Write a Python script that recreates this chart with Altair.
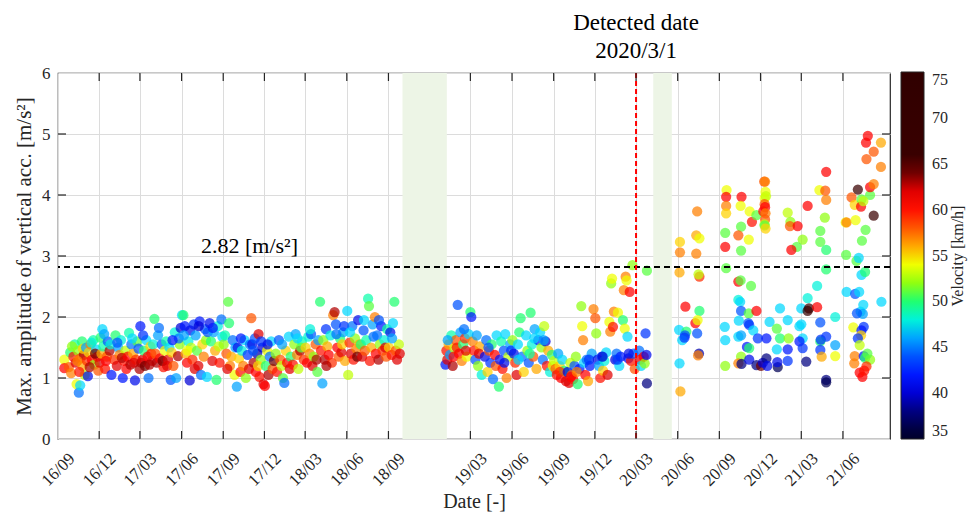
import altair as alt
import pandas as pd

# ---------------- data (date, max amplitude [m/s^2], velocity [km/h]) ----------------
sec_2016_2018 = [
    ("2016-09-15", 1.30, 54), ("2016-09-15", 1.16, 61), ("2016-09-25", 1.18, 58), ("2016-09-28", 1.42, 50), ("2016-09-30", 1.08, 57),
    ("2016-10-05", 1.35, 60), ("2016-10-08", 1.55, 49), ("2016-10-10", 1.25, 62), ("2016-10-12", 0.90, 54), ("2016-10-15", 1.45, 52),
    ("2016-10-17", 0.76, 45), ("2016-10-20", 0.88, 47), ("2016-10-20", 1.32, 58), ("2016-10-24", 1.60, 50), ("2016-10-25", 1.20, 56),
    ("2016-10-28", 1.38, 63), ("2016-10-30", 1.05, 53), ("2016-10-14", 1.28, 57), ("2016-10-26", 1.48, 55), ("2016-10-02", 1.52, 52),
    ("2016-10-18", 1.10, 60),
    ("2016-11-02", 1.50, 46), ("2016-11-04", 1.28, 59), ("2016-11-06", 1.03, 41), ("2016-11-08", 1.42, 55), ("2016-11-12", 1.55, 57),
    ("2016-11-15", 1.30, 61), ("2016-11-18", 1.62, 49), ("2016-11-20", 1.22, 52), ("2016-11-24", 1.47, 47), ("2016-11-27", 1.35, 60),
    ("2016-11-10", 1.18, 63), ("2016-11-22", 1.40, 64), ("2016-11-14", 1.58, 48), ("2016-11-29", 1.12, 58),
    ("2016-12-02", 1.25, 62), ("2016-12-04", 1.66, 50), ("2016-12-06", 1.40, 56), ("2016-12-08", 1.80, 47), ("2016-12-10", 1.52, 49),
    ("2016-12-14", 1.15, 60), ("2016-12-18", 1.35, 58), ("2016-12-20", 1.60, 44), ("2016-12-24", 1.45, 63), ("2016-12-28", 1.05, 42),
    ("2016-12-16", 1.28, 61), ("2016-12-26", 1.55, 48), ("2016-12-12", 1.72, 46),
    ("2017-01-03", 1.30, 59), ("2017-01-06", 1.70, 50), ("2017-01-09", 1.20, 62), ("2017-01-12", 1.50, 46), ("2017-01-15", 1.38, 57),
    ("2017-01-18", 1.62, 48), ("2017-01-22", 1.00, 42), ("2017-01-25", 1.28, 60), ("2017-01-28", 1.45, 53), ("2017-01-20", 1.33, 63),
    ("2017-01-10", 1.58, 44), ("2017-01-30", 1.15, 61),
    ("2017-02-02", 1.35, 61), ("2017-02-05", 1.74, 49), ("2017-02-08", 1.22, 63), ("2017-02-10", 1.55, 45), ("2017-02-14", 1.40, 56),
    ("2017-02-18", 0.96, 41), ("2017-02-20", 1.30, 59), ("2017-02-23", 1.60, 51), ("2017-02-26", 1.48, 44), ("2017-02-16", 1.25, 62),
    ("2017-02-12", 1.65, 47), ("2017-02-28", 1.15, 63),
    ("2017-03-02", 1.85, 42), ("2017-03-04", 1.25, 63), ("2017-03-07", 1.30, 62), ("2017-03-10", 1.45, 50), ("2017-03-12", 1.20, 64),
    ("2017-03-15", 1.62, 47), ("2017-03-18", 1.35, 61), ("2017-03-20", 1.00, 45), ("2017-03-24", 1.52, 55), ("2017-03-28", 1.28, 62),
    ("2017-03-22", 1.22, 63), ("2017-03-26", 1.40, 60), ("2017-03-08", 1.70, 43), ("2017-03-30", 1.55, 48),
    ("2017-04-02", 1.97, 50), ("2017-04-04", 1.40, 58), ("2017-04-07", 1.25, 63), ("2017-04-10", 1.70, 46), ("2017-04-14", 1.32, 61),
    ("2017-04-18", 1.55, 44), ("2017-04-22", 1.18, 60), ("2017-04-25", 1.45, 54), ("2017-04-28", 1.60, 49), ("2017-04-20", 1.28, 64),
    ("2017-04-12", 1.82, 45), ("2017-04-30", 1.20, 62),
    ("2017-05-02", 1.30, 62), ("2017-05-05", 1.50, 47), ("2017-05-08", 0.97, 44), ("2017-05-10", 1.42, 55), ("2017-05-14", 1.20, 58),
    ("2017-05-17", 1.75, 48), ("2017-05-20", 1.00, 46), ("2017-05-24", 1.36, 63), ("2017-05-28", 1.55, 52), ("2017-05-26", 1.65, 45),
    ("2017-05-12", 1.62, 42), ("2017-05-30", 1.82, 40),
    ("2017-06-02", 2.03, 47), ("2017-06-05", 2.03, 50), ("2017-06-08", 1.85, 42), ("2017-06-10", 1.40, 56), ("2017-06-13", 1.25, 61),
    ("2017-06-16", 1.60, 48), ("2017-06-19", 0.96, 40), ("2017-06-22", 1.50, 53), ("2017-06-25", 1.30, 59), ("2017-06-28", 1.88, 43),
    ("2017-06-20", 1.78, 41), ("2017-06-14", 1.45, 54), ("2017-06-06", 1.70, 46), ("2017-06-30", 1.15, 62),
    ("2017-07-02", 1.70, 46), ("2017-07-05", 1.45, 51), ("2017-07-08", 1.20, 62), ("2017-07-11", 1.93, 42), ("2017-07-14", 1.05, 45),
    ("2017-07-17", 1.55, 55), ("2017-07-20", 1.35, 57), ("2017-07-23", 1.80, 44), ("2017-07-27", 1.02, 47), ("2017-07-25", 1.62, 52),
    ("2017-07-09", 1.85, 40), ("2017-07-29", 1.75, 44),
    ("2017-08-02", 1.90, 41), ("2017-08-05", 1.60, 50), ("2017-08-08", 1.28, 62), ("2017-08-11", 1.75, 46), ("2017-08-14", 1.45, 56),
    ("2017-08-17", 0.97, 50), ("2017-08-20", 1.85, 48), ("2017-08-24", 1.25, 60), ("2017-08-28", 1.96, 45), ("2017-08-22", 1.52, 53),
    ("2017-08-09", 1.82, 42), ("2017-08-30", 1.68, 47),
    ("2017-09-02", 1.55, 52), ("2017-09-05", 1.70, 49), ("2017-09-08", 1.40, 58), ("2017-09-12", 2.25, 51), ("2017-09-14", 1.90, 50),
    ("2017-09-16", 1.20, 57), ("2017-09-19", 1.35, 56), ("2017-09-22", 1.62, 45), ("2017-09-26", 1.05, 54), ("2017-09-10", 1.15, 62),
    ("2017-09-28", 1.50, 46),
    ("2017-10-01", 0.86, 46), ("2017-10-03", 1.50, 41), ("2017-10-06", 1.32, 55), ("2017-10-09", 1.10, 60), ("2017-10-12", 1.45, 48),
    ("2017-10-15", 1.20, 57), ("2017-10-18", 1.62, 47), ("2017-10-21", 1.00, 52), ("2017-10-25", 1.38, 43), ("2017-10-28", 1.15, 62),
    ("2017-10-10", 1.65, 42), ("2017-10-30", 1.55, 45),
    ("2017-11-02", 1.98, 58), ("2017-11-04", 1.55, 41), ("2017-11-07", 1.25, 63), ("2017-11-10", 1.65, 44), ("2017-11-12", 1.10, 61),
    ("2017-11-15", 1.40, 39), ("2017-11-18", 1.72, 62), ("2017-11-20", 1.02, 60), ("2017-11-23", 1.30, 52), ("2017-11-26", 1.50, 40),
    ("2017-11-29", 0.90, 62), ("2017-11-17", 1.20, 55), ("2017-11-24", 1.60, 43), ("2017-11-06", 1.45, 44),
    ("2017-12-02", 0.87, 61), ("2017-12-04", 1.20, 50), ("2017-12-07", 1.45, 54), ("2017-12-10", 1.05, 63), ("2017-12-13", 1.35, 45),
    ("2017-12-16", 1.60, 47), ("2017-12-19", 1.15, 58), ("2017-12-22", 1.28, 64), ("2017-12-26", 1.40, 52), ("2017-12-08", 1.55, 41),
    ("2017-12-29", 1.10, 60),
    ("2018-01-02", 1.62, 44), ("2018-01-05", 1.30, 58), ("2018-01-08", 1.20, 53), ("2018-01-11", 1.00, 51), ("2018-01-14", 0.92, 45),
    ("2018-01-17", 1.45, 55), ("2018-01-20", 1.25, 61), ("2018-01-24", 1.68, 47), ("2018-01-28", 1.35, 50), ("2018-01-09", 1.55, 46),
    ("2018-01-26", 1.15, 62),
    ("2018-02-02", 1.22, 60), ("2018-02-05", 1.55, 52), ("2018-02-08", 1.72, 46), ("2018-02-11", 1.38, 57), ("2018-02-14", 1.15, 53),
    ("2018-02-18", 1.45, 63), ("2018-02-22", 1.60, 49), ("2018-02-26", 1.30, 59), ("2018-02-20", 1.50, 51), ("2018-02-12", 1.65, 47),
    ("2018-03-02", 1.50, 55), ("2018-03-05", 1.25, 61), ("2018-03-08", 1.68, 48), ("2018-03-11", 1.40, 57), ("2018-03-14", 1.72, 44),
    ("2018-03-17", 1.20, 62), ("2018-03-20", 1.35, 52), ("2018-03-24", 1.55, 58), ("2018-03-28", 1.10, 51), ("2018-03-26", 1.30, 63),
    ("2018-03-12", 1.80, 48), ("2018-03-30", 1.62, 46),
    ("2018-04-03", 2.25, 50), ("2018-04-05", 1.45, 60), ("2018-04-08", 0.91, 46), ("2018-04-10", 1.62, 52), ("2018-04-13", 1.30, 63),
    ("2018-04-16", 1.80, 43), ("2018-04-19", 1.52, 56), ("2018-04-22", 1.38, 61), ("2018-04-26", 1.70, 48), ("2018-04-29", 1.25, 59),
    ("2018-04-17", 1.20, 63),
    ("2018-05-02", 2.03, 57), ("2018-05-05", 2.08, 63), ("2018-05-08", 1.88, 44), ("2018-05-11", 1.50, 61), ("2018-05-14", 1.35, 58),
    ("2018-05-17", 1.65, 50), ("2018-05-20", 1.42, 62), ("2018-05-24", 1.75, 46), ("2018-05-28", 1.28, 56), ("2018-05-22", 1.55, 55),
    ("2018-05-09", 1.72, 45), ("2018-05-26", 1.85, 43),
    ("2018-06-02", 2.10, 47), ("2018-06-04", 1.05, 53), ("2018-06-07", 1.58, 59), ("2018-06-10", 1.40, 62), ("2018-06-13", 1.85, 45),
    ("2018-06-16", 1.30, 60), ("2018-06-19", 1.65, 52), ("2018-06-22", 1.48, 57), ("2018-06-26", 1.95, 41), ("2018-06-24", 1.35, 64),
    ("2018-06-08", 1.75, 47), ("2018-06-29", 1.55, 56),
    ("2018-07-02", 1.55, 50), ("2018-07-05", 1.35, 62), ("2018-07-08", 1.78, 44), ("2018-07-11", 1.45, 58), ("2018-07-14", 1.62, 49),
    ("2018-07-18", 2.30, 49), ("2018-07-20", 2.18, 51), ("2018-07-22", 1.28, 60), ("2018-07-25", 1.50, 56), ("2018-07-28", 1.88, 46),
    ("2018-07-09", 1.95, 47), ("2018-07-30", 1.68, 45),
    ("2018-08-02", 2.00, 57), ("2018-08-04", 1.40, 61), ("2018-08-07", 1.70, 45), ("2018-08-10", 1.30, 63), ("2018-08-13", 1.55, 52),
    ("2018-08-16", 1.85, 42), ("2018-08-19", 1.45, 59), ("2018-08-23", 1.62, 48), ("2018-08-27", 1.35, 58), ("2018-08-25", 1.50, 62),
    ("2018-08-11", 1.95, 44), ("2018-08-29", 1.80, 49),
    ("2018-09-02", 1.50, 55), ("2018-09-05", 1.75, 41), ("2018-09-08", 1.38, 60), ("2018-09-11", 1.90, 47), ("2018-09-14", 2.25, 50),
    ("2018-09-17", 1.45, 58), ("2018-09-20", 1.30, 62), ("2018-09-24", 1.55, 53), ("2018-09-09", 1.65, 46), ("2018-09-26", 1.40, 62),
]

sec_2019_2020 = [
    ("2019-01-05", 1.22, 42), ("2019-01-07", 1.45, 60), ("2019-01-09", 1.30, 62), ("2019-01-12", 1.55, 56), ("2019-01-15", 1.38, 46),
    ("2019-01-18", 1.70, 49), ("2019-01-21", 1.20, 63), ("2019-01-25", 1.48, 53), ("2019-01-28", 1.62, 58), ("2019-01-23", 1.35, 61),
    ("2019-01-10", 1.62, 46), ("2019-01-30", 1.50, 60),
    ("2019-02-01", 2.20, 44), ("2019-02-04", 1.40, 61), ("2019-02-07", 1.75, 46), ("2019-02-10", 1.28, 57), ("2019-02-13", 1.55, 50),
    ("2019-02-17", 1.65, 59), ("2019-02-21", 1.35, 54), ("2019-02-25", 1.72, 47), ("2019-02-19", 1.45, 62), ("2019-02-15", 1.80, 45),
    ("2019-03-01", 2.08, 50), ("2019-03-03", 2.00, 42), ("2019-03-06", 1.60, 57), ("2019-03-09", 1.45, 60), ("2019-03-12", 1.30, 44),
    ("2019-03-15", 1.70, 46), ("2019-03-18", 1.20, 52), ("2019-03-22", 1.52, 56), ("2019-03-26", 1.05, 48), ("2019-03-20", 1.40, 62),
    ("2019-04-02", 1.35, 41), ("2019-04-05", 1.62, 45), ("2019-04-08", 1.10, 55), ("2019-04-11", 1.45, 58), ("2019-04-14", 1.25, 43),
    ("2019-04-17", 1.55, 50), ("2019-04-20", 0.98, 45), ("2019-04-24", 1.38, 61), ("2019-04-28", 1.70, 47), ("2019-04-10", 1.50, 44),
    ("2019-04-26", 1.20, 58),
    ("2019-05-03", 0.86, 50), ("2019-05-05", 1.30, 42), ("2019-05-08", 1.60, 49), ("2019-05-11", 1.15, 60), ("2019-05-14", 1.45, 44),
    ("2019-05-17", 1.72, 47), ("2019-05-20", 1.00, 57), ("2019-05-24", 1.35, 53), ("2019-05-28", 1.55, 46), ("2019-05-15", 1.25, 41),
    ("2019-05-30", 1.45, 43),
    ("2019-06-02", 1.62, 52), ("2019-06-05", 1.40, 41), ("2019-06-08", 1.25, 59), ("2019-06-11", 1.05, 62), ("2019-06-14", 1.55, 47),
    ("2019-06-17", 1.75, 50), ("2019-06-20", 1.98, 50), ("2019-06-23", 1.35, 45), ("2019-06-27", 1.10, 55), ("2019-06-15", 1.30, 47),
    ("2019-07-02", 1.70, 47), ("2019-07-05", 1.45, 52), ("2019-07-08", 1.25, 44), ("2019-07-12", 2.07, 50), ("2019-07-15", 1.55, 48),
    ("2019-07-18", 1.35, 58), ("2019-07-21", 1.80, 46), ("2019-07-25", 1.15, 56), ("2019-07-29", 1.62, 42), ("2019-07-10", 1.40, 49),
    ("2019-07-20", 1.65, 47),
    ("2019-08-02", 1.75, 47), ("2019-08-05", 1.50, 52), ("2019-08-08", 1.30, 45), ("2019-08-11", 1.85, 53), ("2019-08-14", 1.60, 40),
    ("2019-08-17", 1.20, 60), ("2019-08-20", 1.45, 56), ("2019-08-24", 1.10, 48), ("2019-08-28", 1.38, 50), ("2019-08-10", 1.62, 46),
    ("2019-08-30", 1.20, 54),
    ("2019-09-02", 1.28, 53), ("2019-09-05", 1.15, 58), ("2019-09-08", 1.05, 60), ("2019-09-11", 1.40, 46), ("2019-09-14", 1.20, 55),
    ("2019-09-17", 1.00, 61), ("2019-09-20", 1.30, 47), ("2019-09-24", 1.12, 50), ("2019-09-28", 0.95, 62), ("2019-09-15", 1.10, 59),
    ("2019-10-02", 1.10, 40), ("2019-10-05", 0.92, 62), ("2019-10-08", 1.25, 53), ("2019-10-11", 1.05, 58), ("2019-10-14", 0.98, 60),
    ("2019-10-17", 1.20, 44), ("2019-10-20", 1.35, 52), ("2019-10-24", 0.90, 50), ("2019-10-28", 1.15, 42), ("2019-10-09", 1.02, 61),
    ("2019-10-22", 1.10, 57),
    ("2019-11-01", 2.18, 52), ("2019-11-03", 1.85, 54), ("2019-11-05", 1.62, 57), ("2019-11-07", 1.25, 47), ("2019-11-10", 1.05, 61),
    ("2019-11-13", 1.30, 45), ("2019-11-16", 0.95, 56), ("2019-11-20", 1.20, 42), ("2019-11-24", 1.40, 46), ("2019-11-28", 2.13, 57),
    ("2019-11-18", 1.30, 43),
    ("2019-12-02", 1.98, 58), ("2019-12-04", 1.73, 52), ("2019-12-07", 1.30, 41), ("2019-12-10", 1.20, 46), ("2019-12-13", 1.00, 60),
    ("2019-12-16", 1.35, 44), ("2019-12-19", 1.12, 55), ("2019-12-22", 1.28, 48), ("2019-12-26", 1.42, 47), ("2019-12-29", 1.05, 62),
    ("2019-12-18", 1.35, 40),
    ("2020-01-02", 1.92, 54), ("2020-01-04", 1.76, 57), ("2020-01-06", 2.55, 52), ("2020-01-08", 2.63, 54), ("2020-01-10", 1.84, 60),
    ("2020-01-12", 2.09, 57), ("2020-01-15", 1.30, 40), ("2020-01-18", 1.40, 45), ("2020-01-21", 2.07, 54), ("2020-01-24", 1.20, 47),
    ("2020-01-27", 1.35, 42), ("2020-01-20", 1.30, 43),
    ("2020-02-01", 1.95, 50), ("2020-02-03", 2.44, 57), ("2020-02-05", 1.81, 54), ("2020-02-07", 2.66, 57), ("2020-02-09", 2.60, 54),
    ("2020-02-11", 1.68, 47), ("2020-02-13", 1.32, 41), ("2020-02-16", 2.41, 61), ("2020-02-19", 1.28, 60), ("2020-02-22", 2.85, 52),
    ("2020-02-24", 1.40, 44), ("2020-02-27", 1.15, 58), ("2020-02-14", 1.40, 41),
]

sec_2020_2021 = [
    ("2020-03-08", 1.45, 45), ("2020-03-10", 1.30, 62), ("2020-03-12", 1.20, 47), ("2020-03-18", 1.35, 61), ("2020-03-20", 1.24, 52),
    ("2020-03-22", 1.73, 43), ("2020-03-24", 1.38, 41), ("2020-03-25", 2.76, 51), ("2020-03-25", 0.91, 38),
    ("2020-06-05", 2.73, 56), ("2020-06-06", 3.23, 55), ("2020-06-06", 3.06, 57), ("2020-06-04", 1.79, 47), ("2020-06-05", 1.24, 47),
    ("2020-06-07", 0.78, 56), ("2020-06-18", 2.17, 61), ("2020-06-20", 1.76, 50), ("2020-06-17", 1.70, 44), ("2020-06-11", 1.62, 47),
    ("2020-06-16", 1.66, 43), ("2020-07-14", 3.73, 57), ("2020-07-12", 3.34, 56), ("2020-07-19", 3.29, 54), ("2020-07-12", 3.04, 57),
    ("2020-07-19", 2.66, 59), ("2020-07-17", 2.70, 53), ("2020-07-19", 2.10, 50), ("2020-07-10", 1.90, 61), ("2020-07-15", 1.95, 54),
    ("2020-07-14", 1.73, 44), ("2020-07-18", 1.40, 39), ("2020-07-16", 1.37, 57),
    ("2020-09-17", 4.08, 54), ("2020-09-16", 3.97, 61), ("2020-10-20", 3.97, 61), ("2020-09-16", 3.82, 57), ("2020-09-16", 3.70, 55),
    ("2020-10-18", 3.82, 54), ("2020-11-07", 3.73, 54), ("2020-10-19", 3.48, 51), ("2020-10-13", 3.34, 58), ("2020-09-14", 3.38, 51),
    ("2020-11-12", 3.56, 60), ("2020-11-05", 3.27, 54), ("2020-09-14", 3.15, 61), ("2020-10-19", 3.09, 51), ("2020-09-16", 2.80, 51),
    ("2020-11-22", 3.67, 51), ("2020-12-07", 3.73, 61), ("2020-12-09", 4.22, 58), ("2020-12-10", 3.95, 54),
    ("2020-10-13", 2.58, 61), ("2020-10-18", 2.60, 51), ("2020-11-10", 2.51, 51), ("2020-10-13", 2.28, 48), ("2020-10-17", 2.25, 47),
    ("2020-10-19", 2.10, 44), ("2020-11-05", 2.06, 51), ("2020-11-22", 2.10, 61), ("2020-10-14", 1.94, 47), ("2020-11-04", 1.90, 44),
    ("2020-11-06", 1.87, 43), ("2020-09-13", 1.84, 47), ("2020-09-14", 1.62, 47), ("2020-10-13", 1.68, 47), ("2020-10-19", 1.70, 46),
    ("2020-11-15", 1.78, 47), ("2020-11-25", 1.65, 43), ("2020-11-01", 1.51, 42), ("2020-11-06", 1.49, 50), ("2020-10-19", 1.35, 52),
    ("2020-09-14", 1.20, 52), ("2020-10-13", 1.24, 57), ("2020-10-20", 1.23, 38), ("2020-11-06", 1.30, 41), ("2020-11-22", 1.21, 38),
    ("2020-12-02", 1.20, 64), ("2020-12-06", 1.25, 40),
    ("2020-12-11", 4.22, 57), ("2020-12-12", 4.05, 54), ("2020-12-13", 3.98, 53), ("2020-12-10", 3.85, 58), ("2020-12-11", 3.80, 61),
    ("2020-12-12", 3.70, 57), ("2020-12-11", 3.60, 58), ("2020-12-10", 3.52, 53), ("2020-12-10", 3.50, 51), ("2020-12-12", 3.45, 55),
    ("2021-04-25", 4.38, 61), ("2021-04-10", 4.08, 54), ("2021-04-23", 4.07, 58), ("2021-04-25", 3.92, 57), ("2021-03-15", 3.82, 61),
    ("2021-01-30", 3.71, 53), ("2021-02-05", 3.56, 52), ("2021-02-04", 3.49, 58), ("2021-02-21", 3.49, 61), ("2021-03-04", 3.27, 52),
    ("2021-02-19", 3.15, 51), ("2021-02-07", 3.10, 61), ("2021-04-22", 3.63, 52), ("2021-04-12", 3.41, 51), ("2021-04-12", 3.23, 51),
    ("2021-04-25", 3.10, 50), ("2021-04-25", 2.78, 50),
    ("2021-07-26", 4.97, 61), ("2021-07-22", 4.86, 61), ("2021-08-24", 4.86, 56), ("2021-08-08", 4.71, 58), ("2021-07-23", 4.59, 58),
    ("2021-08-24", 4.46, 57), ("2021-07-04", 4.09, 66), ("2021-06-20", 3.96, 58), ("2021-06-27", 3.84, 55), ("2021-07-12", 3.93, 51),
    ("2021-07-11", 3.81, 61), ("2021-08-08", 3.66, 65), ("2021-07-31", 4.00, 51), ("2021-07-31", 4.13, 61), ("2021-08-08", 4.18, 57),
    ("2021-06-07", 3.55, 54), ("2021-06-09", 3.55, 57), ("2021-06-29", 3.59, 54), ("2021-07-21", 3.43, 51), ("2021-07-13", 3.25, 51),
    ("2021-07-16", 3.90, 53), ("2021-06-08", 3.02, 51), ("2021-07-01", 2.92, 51), ("2021-07-06", 2.97, 47), ("2021-07-12", 2.69, 47),
    ("2021-07-20", 2.74, 50),
    ("2021-06-09", 2.41, 47), ("2021-06-28", 2.38, 44), ("2021-07-07", 2.41, 47), ("2021-08-25", 2.25, 47), ("2021-07-16", 2.20, 47),
    ("2021-07-10", 2.09, 47), ("2021-07-15", 2.05, 46), ("2021-07-02", 2.06, 44), ("2021-06-24", 1.83, 54), ("2021-07-17", 1.84, 43),
    ("2021-07-12", 1.78, 42), ("2021-07-11", 1.70, 55), ("2021-07-04", 1.65, 43), ("2021-07-08", 1.54, 53), ("2021-06-27", 1.36, 57),
    ("2021-06-26", 1.24, 57), ("2021-07-17", 1.36, 42), ("2021-07-20", 1.33, 50), ("2021-07-31", 1.30, 52), ("2021-07-23", 1.19, 59),
    ("2021-07-14", 1.02, 61), ("2021-07-08", 1.09, 61), ("2021-07-18", 1.12, 60), ("2021-07-25", 1.40, 51),
    ("2021-01-13", 2.14, 47), ("2021-04-05", 2.51, 48), ("2021-03-15", 2.31, 48), ("2021-03-01", 2.14, 47), ("2021-03-18", 2.14, 65),
    ("2021-04-05", 2.16, 61), ("2021-03-15", 2.10, 66), ("2021-05-15", 2.00, 48), ("2020-12-21", 1.92, 47), ("2021-01-30", 1.95, 47),
    ("2021-01-06", 1.81, 51), ("2021-02-25", 1.85, 47), ("2021-03-01", 1.88, 47), ("2021-04-12", 1.91, 44), ("2021-04-25", 1.68, 43),
    ("2021-05-15", 1.54, 46), ("2021-01-13", 1.65, 50), ("2021-02-01", 1.65, 52), ("2020-12-14", 1.65, 42), ("2021-03-04", 1.65, 47),
    ("2021-02-25", 1.60, 42), ("2021-04-12", 1.60, 50), ("2021-04-13", 1.63, 43), ("2021-01-06", 1.47, 47), ("2021-01-30", 1.47, 42),
    ("2021-03-04", 1.49, 43), ("2021-04-12", 1.46, 43), ("2021-04-15", 1.35, 56), ("2021-05-15", 1.36, 54), ("2020-12-14", 1.32, 38),
    ("2020-12-16", 1.20, 41), ("2021-01-08", 1.18, 37), ("2021-01-07", 1.26, 41), ("2021-01-30", 1.28, 43), ("2021-03-12", 1.27, 38),
    ("2021-04-25", 0.97, 38), ("2021-04-25", 0.93, 37),
]

tick_dates = ["2016-09-01", "2016-12-01", "2017-03-01", "2017-06-01", "2017-09-01", "2017-12-01",
              "2018-03-01", "2018-06-01", "2018-09-01", "2019-03-01", "2019-06-01", "2019-09-01",
              "2019-12-01", "2020-03-01", "2020-06-01", "2020-09-01", "2020-12-01", "2021-03-01", "2021-06-01"]
y_ticks = [0, 1, 2, 3, 4, 5, 6]
gap_starts = ["2018-10-02", "2020-04-08"]
gap_ends = ["2019-01-08", "2020-05-19"]
threshold = 2.82
detected_date = "2020-03-01"
x_start, x_end = "2016-09-01", "2021-09-13"

vel_stops = [35, 37, 40, 42, 45, 47, 48.5, 50, 52, 54, 55, 57, 59.5, 61, 62.5, 64, 65, 75]
vel_colors = ["#00002a", "#000055", "#0000d5", "#0018ff", "#0070ff", "#00d8ff", "#00ffc8", "#20ff70",
              "#90ff10", "#f0ff00", "#ffd200", "#ff8000", "#ff1800", "#ff0000", "#d00000", "#700000",
              "#3a0000", "#300000"]
vel_labels = [35, 40, 45, 50, 55, 60, 65, 70, 75]

FONT = "Liberation Serif"
INK = "#262626"
W, H = 832, 366


def dt(s):
    return alt.DateTime(year=int(s[:4]), month=int(s[5:7]), date=int(s[8:10]), utc=True)


# ---------------- tables ----------------
rows = sec_2016_2018 + sec_2019_2020 + sec_2020_2021
pts = pd.DataFrame(rows, columns=["date", "amp", "vel"])
gaps = pd.DataFrame({"start": gap_starts, "end": gap_ends, "y0": [0, 0], "y1": [6, 6]})
ticks_x = pd.DataFrame({"date": tick_dates[1:]})
ticks_y = pd.DataFrame({"v": y_ticks[1:-1]})

xscale = alt.Scale(type="utc", domain=[dt(x_start), dt(x_end)], nice=False)
yscale = alt.Scale(domain=[0, 6], nice=False, zero=False)

xaxis = alt.Axis(values=[dt(s) for s in tick_dates], format="%y/%m", labelAngle=315,
                 labelAlign="right", labelBaseline="top", labelPadding=11, labelOffset=8,
                 labelFontSize=17, title="Date [-]", titleFontSize=20, titlePadding=3,
                 grid=True, labelOverlap=False)
yaxis = alt.Axis(values=y_ticks, format="d", labelFontSize=17, labelPadding=8,
                 title="Max. amplitude of vertical acc. [m/s²]", titleFontSize=21, titlePadding=7, grid=True)

bands = alt.Chart(gaps).mark_rect(color="#edf5e6").encode(
    x=alt.X("start:T", scale=xscale, axis=xaxis), x2="end:T",
    y=alt.Y("y0:Q", scale=yscale, axis=yaxis), y2="y1:Q")

points = alt.Chart(pts).mark_circle(size=105, opacity=0.72).encode(
    x=alt.X("date:T", scale=xscale, axis=xaxis),
    y=alt.Y("amp:Q", scale=yscale, axis=yaxis),
    color=alt.Color("vel:Q",
                    scale=alt.Scale(domain=vel_stops, range=vel_colors, interpolate="rgb"),
                    legend=alt.Legend(orient="none", legendX=W + 11, legendY=-1, direction="vertical",
                                      gradientLength=H + 1, gradientThickness=23, gradientOpacity=1,
                                      gradientStrokeColor=INK, gradientStrokeWidth=1,
                                      values=vel_labels, labelFontSize=16, labelFont=FONT,
                                      labelColor=INK, labelOffset=8, labelOverlap=False,
                                      title=None)))

hline = alt.Chart(pd.DataFrame({"v": [threshold]})).mark_rule(
    color="black", strokeWidth=2, strokeDash=[6, 4]).encode(y=alt.Y("v:Q", scale=yscale))

vline = alt.Chart(pd.DataFrame({"d": [detected_date]})).mark_rule(
    color="#ff0000", strokeWidth=2, strokeDash=[5, 3]).encode(x=alt.X("d:T", scale=xscale))

thr_text = alt.Chart(pd.DataFrame({"d": ["2017-10-29"], "v": [3.05], "t": ["2.82 [m/s²]"]})).mark_text(
    font=FONT, fontSize=22, color="black", align="center", baseline="alphabetic").encode(
    x=alt.X("d:T", scale=xscale), y=alt.Y("v:Q", scale=yscale), text="t:N")

title_text = alt.Chart(pd.DataFrame({"d": [detected_date, detected_date],
                                     "t": ["Detected date", "2020/3/1"],
                                     "py": [-43, -15]})).mark_text(
    font=FONT, fontSize=23, color="black", align="center", baseline="alphabetic").encode(
    x=alt.X("d:T", scale=xscale), y=alt.Y("py:Q", scale=None), text="t:N")

cbar_title = alt.Chart(pd.DataFrame({"t": ["Velocity [km/h]"]})).mark_text(
    font=FONT, fontSize=16, color=INK, align="center", baseline="middle", angle=270).encode(
    x=alt.value(W + 68), y=alt.value(H / 2), text="t:N")

tick_col = INK
bot_ticks = alt.Chart(ticks_x).mark_rule(color=tick_col, strokeWidth=1.2).encode(
    x=alt.X("date:T", scale=xscale), y=alt.value(H), y2=alt.value(H - 8))
top_ticks = alt.Chart(ticks_x).mark_rule(color=tick_col, strokeWidth=1.2).encode(
    x=alt.X("date:T", scale=xscale), y=alt.value(0), y2=alt.value(8))
left_ticks = alt.Chart(ticks_y).mark_rule(color=tick_col, strokeWidth=1.2).encode(
    y=alt.Y("v:Q", scale=yscale), x=alt.value(0), x2=alt.value(8))
right_ticks = alt.Chart(ticks_y).mark_rule(color=tick_col, strokeWidth=1.2).encode(
    y=alt.Y("v:Q", scale=yscale), x=alt.value(W - 8), x2=alt.value(W))

chart = alt.layer(bands, points, hline, vline, thr_text, title_text, cbar_title,
                  bot_ticks, top_ticks, left_ticks, right_ticks).properties(
    width=W, height=H,
    autosize=alt.AutoSizeParams(type="none"),
    padding={"left": 50, "top": 65, "right": 80, "bottom": 75},
).configure_axis(
    labelFont=FONT, titleFont=FONT, labelColor=INK, titleColor=INK,
    gridColor="#dcdcdc", gridWidth=1, domain=False, ticks=False, titleFontWeight="normal",
).configure_view(stroke=INK, strokeWidth=1.2)

chart.save("out.html", embed_options={"renderer": "svg", "actions": False})
